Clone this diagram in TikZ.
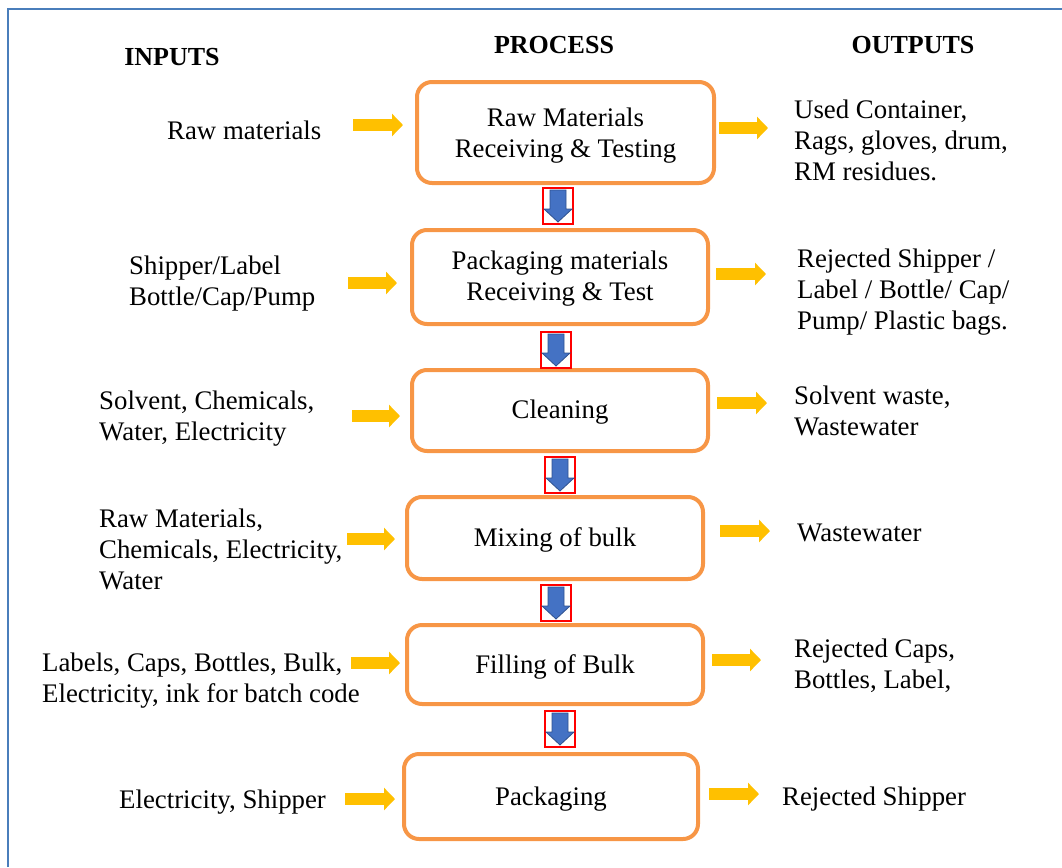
\documentclass[tikz,border=0pt]{standalone}
\usepackage{fontspec}
\setmainfont{Liberation Serif}
\usetikzlibrary{arrows.meta,calc}
\definecolor{frameblue}{HTML}{4A7EBB}
\definecolor{boxorange}{HTML}{F79646}
\definecolor{arrowyellow}{HTML}{FFC000}
\definecolor{downblue}{HTML}{4472C4}
\definecolor{downdark}{HTML}{2F528F}
\tikzset{
  txt/.style={font=\fontsize{26.8}{31}\selectfont, inner sep=0pt, align=left, anchor=west, yshift=-2.5pt},
  title/.style={font=\fontsize{26}{31}\selectfont\bfseries, inner sep=0pt},
  pbox/.style={draw=boxorange, line width=4pt, rounded corners=15pt, inner sep=0pt},
  btxt/.style={font=\fontsize{26.8}{31}\selectfont, inner sep=0pt, align=center},
  yarrow/.style={draw=arrowyellow, line width=12pt, -{Triangle[length=11pt,width=22pt]}},
  redbox/.style={draw=red, line width=2pt, minimum width=30pt, minimum height=36pt, inner sep=0pt},
}
\newcommand{\downarrowin}[1]{%
  \filldraw[draw=downdark, fill=downblue, line width=0.8pt]
    ($(#1)+(-8,-16)$) -- ($(#1)+(8,-16)$) -- ($(#1)+(8,3)$) -- ($(#1)+(14,3)$)
    -- ($(#1)+(0,16)$) -- ($(#1)+(-14,3)$) -- ($(#1)+(-8,3)$) -- cycle;}
\begin{document}
\begin{tikzpicture}[x=1pt,y=-1pt]
\useasboundingbox (0,0) rectangle (1062,867);
% frame
\draw[frameblue, line width=2pt] (8,867) -- (8,9.5) -- (1062,9.5);
% titles
\node[title] (tin) at (172,57) {INPUTS};
\node[title] (tpr) at (554,45) {PROCESS};
\node[title] (tout) at (913,45) {OUTPUTS};
% process boxes
\node[pbox, minimum width=297pt, minimum height=101pt] (p1) at (565.5,132.5) {};
\node[pbox, minimum width=296pt, minimum height=94pt] (p2) at (560,277) {};
\node[pbox, minimum width=296pt, minimum height=81pt] (p3) at (560,410.5) {};
\node[pbox, minimum width=296pt, minimum height=82pt] (p4) at (555,538) {};
\node[pbox, minimum width=296pt, minimum height=79pt] (p5) at (555,664.5) {};
\node[pbox, minimum width=294pt, minimum height=85pt] (p6) at (551,796.5) {};
\node[btxt] (p1t) at ([yshift=-3pt]p1.center) {Raw Materials\\Receiving \& Testing};
\node[btxt] (p2t) at ([yshift=-2pt]p2.center) {Packaging materials\\Receiving \& Test};
\node[btxt] (p3t) at ([yshift=-2pt]p3.center) {Cleaning};
\node[btxt] (p4t) at ([yshift=-2pt]p4.center) {Mixing of bulk};
\node[btxt] (p5t) at ([yshift=-2pt]p5.center) {Filling of Bulk};
\node[btxt] (p6t) at ([yshift=-2.5pt]p6.center) {Packaging};
% down arrows
\node[redbox] (d1) at (558,206) {};
\node[redbox] (d2) at (556,350) {};
\node[redbox] (d3) at (560,475) {};
\node[redbox] (d4) at (556,603) {};
\node[redbox] (d5) at (560,729) {};
\downarrowin{d1}\downarrowin{d2}\downarrowin{d3}\downarrowin{d4}\downarrowin{d5}
% inputs
\node[txt] (i1) at (167,128) {Raw materials};
\node[txt] (i2) at (129,281) {Shipper/Label\\Bottle/Cap/Pump};
\node[txt] (i3) at (99,416) {Solvent, Chemicals,\\Water, Electricity};
\node[txt] (i4) at (99,547) {Raw Materials,\\Chemicals, Electricity,\\Water};
\node[txt] (i5) at (42,678) {Labels, Caps, Bottles, Bulk,\\Electricity, ink for batch code};
\node[txt] (i6) at (119,800) {Electricity, Shipper};
% outputs
\node[txt] (o1) at (794,138) {Used Container,\\Rags, gloves, drum,\\RM residues.};
\node[txt] (o2) at (797,290) {Rejected Shipper /\\Label / Bottle/ Cap/\\Pump/ Plastic bags.};
\node[txt] (o3) at (794,408) {Solvent waste,\\Wastewater};
\node[txt] (o4) at (797,530) {Wastewater};
\node[txt] (o5) at (794,663) {Rejected Caps,\\Bottles, Label,};
\node[txt] (o6) at (782,797) {Rejected Shipper};
% input arrow coordinates
\coordinate (ia1) at (353,125); \coordinate (ib1) at (403,125);
\coordinate (ia2) at (348,283); \coordinate (ib2) at (397,283);
\coordinate (ia3) at (352,416); \coordinate (ib3) at (400,416);
\coordinate (ia4) at (347,539); \coordinate (ib4) at (395,539);
\coordinate (ia5) at (351,663); \coordinate (ib5) at (400,663);
\coordinate (ia6) at (345,799); \coordinate (ib6) at (395,799);
\foreach \k in {1,...,6}{\draw[yarrow] (ia\k) -- (ib\k);}
% output arrow coordinates
\coordinate (oa1) at (719,128); \coordinate (ob1) at (768,128);
\coordinate (oa2) at (716,274); \coordinate (ob2) at (766,274);
\coordinate (oa3) at (717,403); \coordinate (ob3) at (767,403);
\coordinate (oa4) at (720,531); \coordinate (ob4) at (770,531);
\coordinate (oa5) at (712,660); \coordinate (ob5) at (761,660);
\coordinate (oa6) at (709,794); \coordinate (ob6) at (759,794);
\foreach \k in {1,...,6}{\draw[yarrow] (oa\k) -- (ob\k);}
\end{tikzpicture}
\end{document}
